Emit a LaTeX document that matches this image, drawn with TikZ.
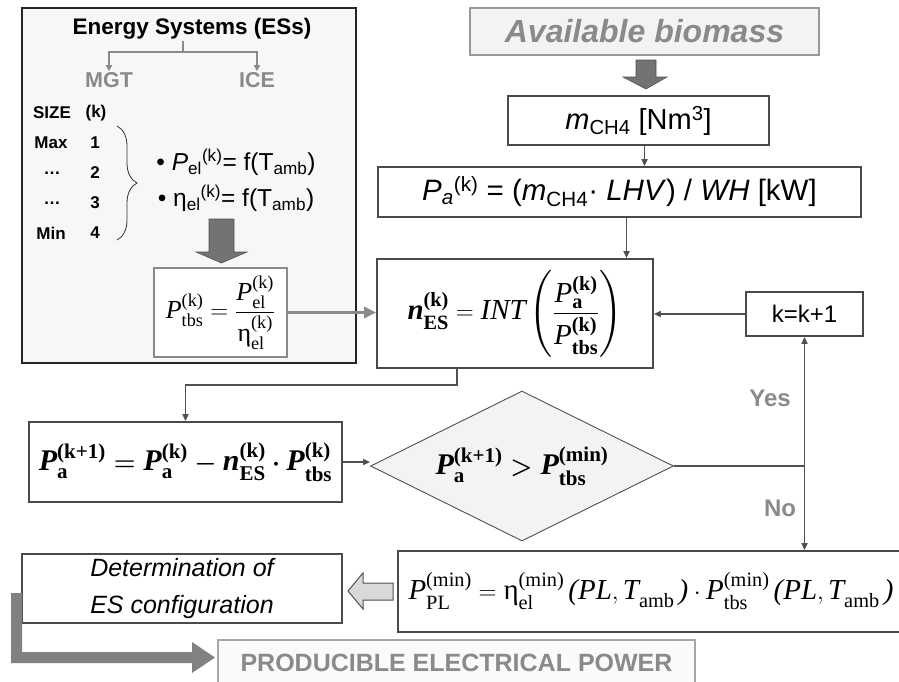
\documentclass[tikz,border=0pt]{standalone}
\usepackage{amsmath,amssymb}
\usepackage[no-math]{fontspec}
\newfontfamily\arial{Liberation Sans}
\newfontfamily\tms{Liberation Serif}
\usetikzlibrary{arrows.meta,shapes.geometric,decorations.pathreplacing,calc}
\definecolor{boxc}{HTML}{4A4A4A}
\definecolor{linec}{HTML}{505050}
\definecolor{gtext}{HTML}{8A8A8A}
\definecolor{lfill}{HTML}{F3F3F3}
\definecolor{blkc}{HTML}{737373}
\newcommand{\fsz}[1]{\fontsize{#1}{#1}\selectfont}
\newcommand{\SB}[2]{_{\text{#1}}^{\text{#2}}}
\begin{document}
\begin{tikzpicture}[x=1pt,y=-1pt,
  wbox/.style={draw=boxc,line width=1.8,fill=white,inner sep=0},
  txt/.style={inner sep=1},
  conn/.style={draw=linec,line width=1.8,-{Triangle[length=7pt,width=6pt]}},
  plain/.style={draw=linec,line width=1.8},
  gconn/.style={draw=gtext,line width=1.8,-{Triangle[length=6pt,width=6pt]}},
  gtxt/.style={inner sep=1,text=gtext,font=\arial\bfseries\fsz{22}},
  blk/.style={fill=blkc,draw=linec,line width=0.6}]
\useasboundingbox (0,0) rectangle (899,681);
\clip (0,0) rectangle (899,681);

% ---------- Energy systems panel ----------
\node[draw=black!85,line width=2,fill=black!3,inner sep=0,minimum width=334,minimum height=355] (es) at (189,185.5) {};
\node[txt,font=\arial\bfseries\fsz{22.5}] (title) at (192,29) {Energy Systems (ESs)};
\node[gtxt,font=\arial\bfseries\fsz{21.5}] (mgt) at (109,80) {MGT};
\node[gtxt,font=\arial\bfseries\fsz{21.5}] (ice) at (257,80) {ICE};
\coordinate (stem) at (183,52);
\draw[draw=gtext,line width=1.8] (title.south -| stem) -- (stem);
\draw[gconn] (stem) -| (mgt.north);
\draw[gconn] (stem) -| (ice.north);

\tikzset{sz/.style={txt,font=\arial\bfseries\fsz{17}}}
\node[sz] (size) at (52,113) {SIZE};
\node[sz] (kk) at (96,113) {(k)};
\node[sz] (max) at (51,143) {Max};
\node[sz] (n1) at (95,143) {1};
\node[sz] (d2) at (52,173) {\dots};
\node[sz] (n2) at (95,173) {2};
\node[sz] (d3) at (52,203) {\dots};
\node[sz] (n3) at (95,203) {3};
\node[sz] (min) at (51,233) {Min};
\node[sz] (n4) at (95,233) {4};
\draw[decorate,decoration={brace,amplitude=20,aspect=0.5},line width=0.8,draw=black!80] (117,126) -- (117,240);

\node[txt,font=\arial\fsz{24.5}] (bul1) at (236,162) {\textbullet\ \textit{P}\textsubscript{el}\textsuperscript{(k)}= f(T\textsubscript{amb})};
\node[txt,font=\arial\fsz{24.5}] (bul2) at (236,198) {\textbullet\ η\textsubscript{el}\textsuperscript{(k)}= f(T\textsubscript{amb})};

\draw[blk] (209,219) -- (234,219) -- (234,252) -- (247,252) -- (221.5,263) -- (196,252) -- (209,252) -- cycle;

\node[draw=gtext,line width=2,fill=white,inner sep=0,minimum width=133,minimum height=89,font=\tms\fsz{26}] (ptbs) at (220.5,312.5)
  {$\textit{P}\SB{tbs}{(k)} = \dfrac{\textit{P}\SB{el}{(k)}}{\text{η}\SB{el}{(k)}}$};

% ---------- right column ----------
\node[draw=black!40,line width=1.5,fill=lfill,inner sep=0,minimum width=349,minimum height=47,text=gtext,font=\arial\bfseries\itshape\fsz{32}] (avail) at (644.5,31.5) {Available biomass};
\draw[blk] (636,60) -- (656,60) -- (656,77) -- (667,77) -- (646,89) -- (623,77) -- (636,77) -- cycle;

\node[wbox,minimum width=261,minimum height=49,font=\arial\fsz{29}] (mch4) at (638.5,120.5) {\textit{m}\textsubscript{CH4} [Nm\textsuperscript{3}]};
\node[wbox,minimum width=483,minimum height=50,font=\arial\fsz{29.5}] (pa) at (619.5,192)
  {\textit{P}\textsubscript{\textit{a}}\textsuperscript{(k)} = (\textit{m}\textsubscript{CH4}· \textit{LHV}) / \textit{WH} [kW]};
\draw[conn] ([xshift=6]mch4.south) -- ([xshift=6]mch4.south |- pa.north);

\node[wbox,minimum width=276,minimum height=109,font=\tms\fsz{29}] (nes) at (515,313.5)
  {$\textbf{\textit{n}}\SB{\bfseries ES}{\bfseries (k)} = \textit{INT}\left(\dfrac{\textit{P}\SB{\bfseries a}{\bfseries (k)}}{\textit{P}\SB{\bfseries tbs}{\bfseries (k)}}\right)$};
\draw[conn] ([xshift=7]pa.south) -- ([xshift=7]pa.south |- nes.north);

\node[wbox,minimum width=117,minimum height=44,font=\arial\fsz{24}] (kbox) at (804.5,314) {k=k+1};
\draw[conn] (kbox.west) -- (kbox.west -| nes.east);

\draw[draw=gtext,line width=3.5,-{Triangle[length=12pt,width=11pt]}] (ptbs.east) -- (ptbs.east -| nes.west);

% ---------- loop ----------
\node[wbox,minimum width=313,minimum height=80,font=\tms\bfseries\boldmath\fsz{30}] (pak) at (185.5,462)
  {$\textit{P}\SB{a}{(k+1)} = \textit{P}\SB{a}{(k)} - \textit{n}\SB{ES}{(k)}\cdot \textit{P}\SB{tbs}{(k)}$};
\coordinate (nesout) at (457,368);
\draw[conn] (nesout) -- (457,385) -| (pak.north);

\node[diamond,aspect=2,draw=linec,line width=0.9,fill=lfill,inner sep=0,minimum width=303,minimum height=150,font=\tms\bfseries\boldmath\fsz{30}] (dia) at (522,466)
  {$\textit{P}\SB{a}{(k+1)} > \textit{P}\SB{tbs}{(min)}$};
\draw[conn] (pak.east) -- (pak.east -| dia.west);

\node[wbox,minimum width=530,minimum height=81,font=\tms\fsz{29}] (ppl) at (663,591.5)
  {};
\node[txt,font=\tms\fsz{29}] (pplf) at (651,591.5)
  {$\textit{P}\SB{PL}{(min)} = \text{η}\SB{el}{(min)}\,\textit{(PL},\textit{T}\SB{amb}{}\,\textit{)}\cdot \textit{P}\SB{tbs}{(min)}\,\textit{(PL},\textit{T}\SB{amb}{}\,\textit{)}$};

\coordinate (jn) at (dia.east -| kbox.south);
\draw[plain] (dia.east) -- (jn);
\draw[conn] (jn) -- (kbox.south);
\draw[conn] (jn) -- (jn |- ppl.north);
\node[gtxt,font=\arial\bfseries\fsz{24}] (yes) at (770,398) {Yes};
\node[gtxt,font=\arial\bfseries\fsz{24}] (no) at (780,508) {No};

% ---------- bottom ----------
\node[wbox,minimum width=320,minimum height=69,align=center,font=\arial\itshape\fontsize{25}{37}\selectfont] (det) at (182,588.5)
  {Determination of\\ES configuration};
\draw[fill=black!15,draw=linec,line width=1] (393,583) -- (363,583) -- (363,573) -- (348,591) -- (363,609) -- (363,600) -- (393,600) -- cycle;

\node[draw=black!35,line width=1.5,fill=black!2,inner sep=0,minimum width=477,minimum height=46,text=gtext,font=\arial\bfseries\fsz{25}] (prod) at (456.5,663) {PRODUCIBLE ELECTRICAL POWER};
\fill[blkc!90] (11,593) -- (22,593) -- (22,652) -- (192,652) -- (192,642) -- (215,657.5) -- (192,673) -- (192,663) -- (11,663) -- cycle;
\end{tikzpicture}
\end{document}
